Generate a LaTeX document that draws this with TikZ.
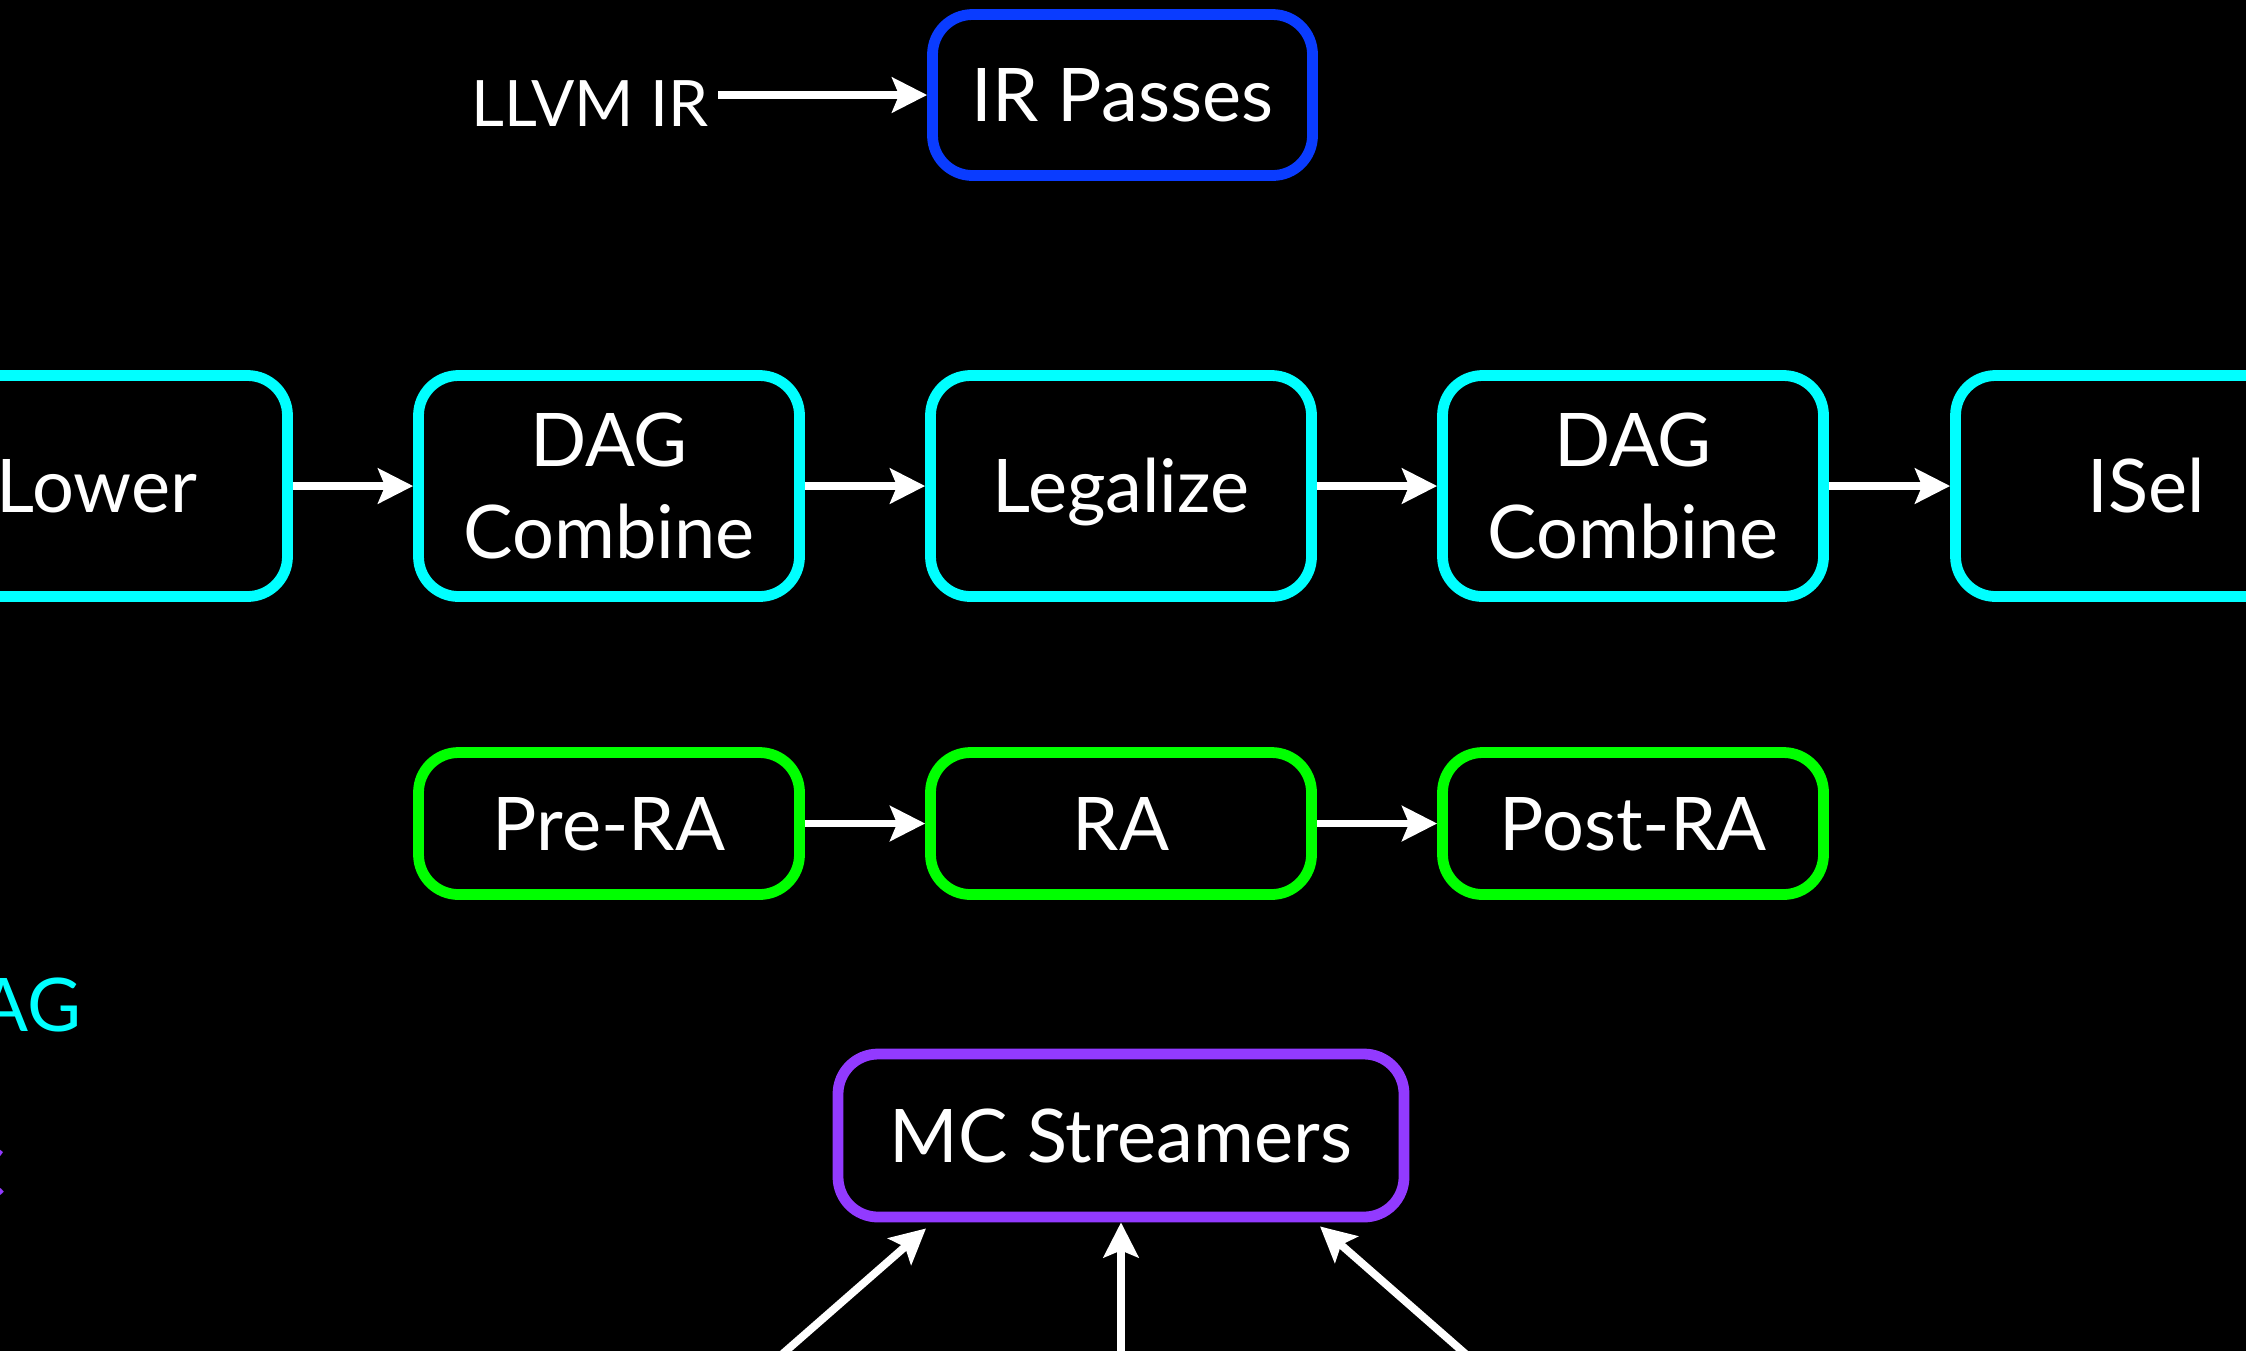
\documentclass[tikz,border=0pt]{standalone}
\usepackage{fontspec}
\setmainfont{Lato}
\usetikzlibrary{arrows.meta,calc}
\definecolor{cyanb}{RGB}{0,255,255}
\definecolor{greenb}{RGB}{0,255,0}
\definecolor{blueb}{RGB}{10,60,255}
\definecolor{purpleb}{RGB}{146,58,255}
\begin{document}
\begin{tikzpicture}[x=0.5pt,y=-0.5pt,
  box/.style={draw, line width=5.4pt, rounded corners=20pt, fill=black, text=white,
    inner sep=0pt, align=center, font=\fontsize{37}{46}\selectfont},
  onel/.style={text height=26.5pt, text depth=0pt},
  dagbox/.style={box, draw=cyanb, minimum width=190.5pt, minimum height=110.5pt},
  rabox/.style={box, onel, draw=greenb, minimum width=190.5pt, minimum height=71pt},
  arr/.style={draw=white, line width=3.9pt, -{Stealth[length=17.5pt,width=17.5pt,inset=3.5pt]}},
  legend/.style={inner sep=0pt, anchor=base east, font=\fontsize{37}{46}\selectfont}
]
\fill[black] (0,0) rectangle (2246,1351);
\useasboundingbox (0,0) rectangle (2246,1351);

% top row
\node[box, onel, draw=blueb, minimum width=190pt, minimum height=80.5pt] (irp) at (1122.5,95) {IR Passes};
\node[text=white, inner xsep=4.5pt, inner ysep=0pt, anchor=base east,
      font=\fontsize{32}{40}\selectfont] (llvm) at (718,126) {LLVM IR};

% SelectionDAG row
\node[dagbox, onel] (lower) at (97,486) {Lower};
\node[dagbox] (dc1) at (609,486) {DAG\\Combine};
\node[dagbox, onel] (leg) at (1121,486) {Legalize};
\node[dagbox] (dc2) at (1633,486) {DAG\\Combine};
\node[dagbox, onel] (isel) at (2146,486) {ISel};

% codegen row
\node[rabox] (pre) at (609,823.5) {Pre-RA};
\node[rabox] (ra) at (1121,823.5) {RA};
\node[rabox] (post) at (1633,823.5) {Post-RA};

% MC
\node[box, onel, draw=purpleb, minimum width=283pt, minimum height=81.5pt] (mc) at (1121,1135.5) {MC Streamers};

% legend (cut by the page edge, as in the reference)
\node[legend, text=cyanb] (lgdag) at (82,1031) {DAG};
\node[legend, text=purpleb] (lgmc) at (6,1199) {MC};

% connectors
\draw[arr] (llvm.east |- irp.west) -- (irp.west);
\draw[arr] (lower) -- (dc1);
\draw[arr] (dc1) -- (leg);
\draw[arr] (leg) -- (dc2);
\draw[arr] (dc2) -- (isel);
\draw[arr] (pre) -- (ra);
\draw[arr] (ra) -- (post);

\coordinate (b1) at (763,1371);
\coordinate (b2) at (1121,1371);
\coordinate (b3) at (1485,1371);
\draw[arr] (b1) -- ($(mc.south)+(-195,6)$);
\draw[arr] (b2) -- (mc.south);
\draw[arr] (b3) -- ($(mc.south)+(199,4)$);
\end{tikzpicture}
\end{document}
